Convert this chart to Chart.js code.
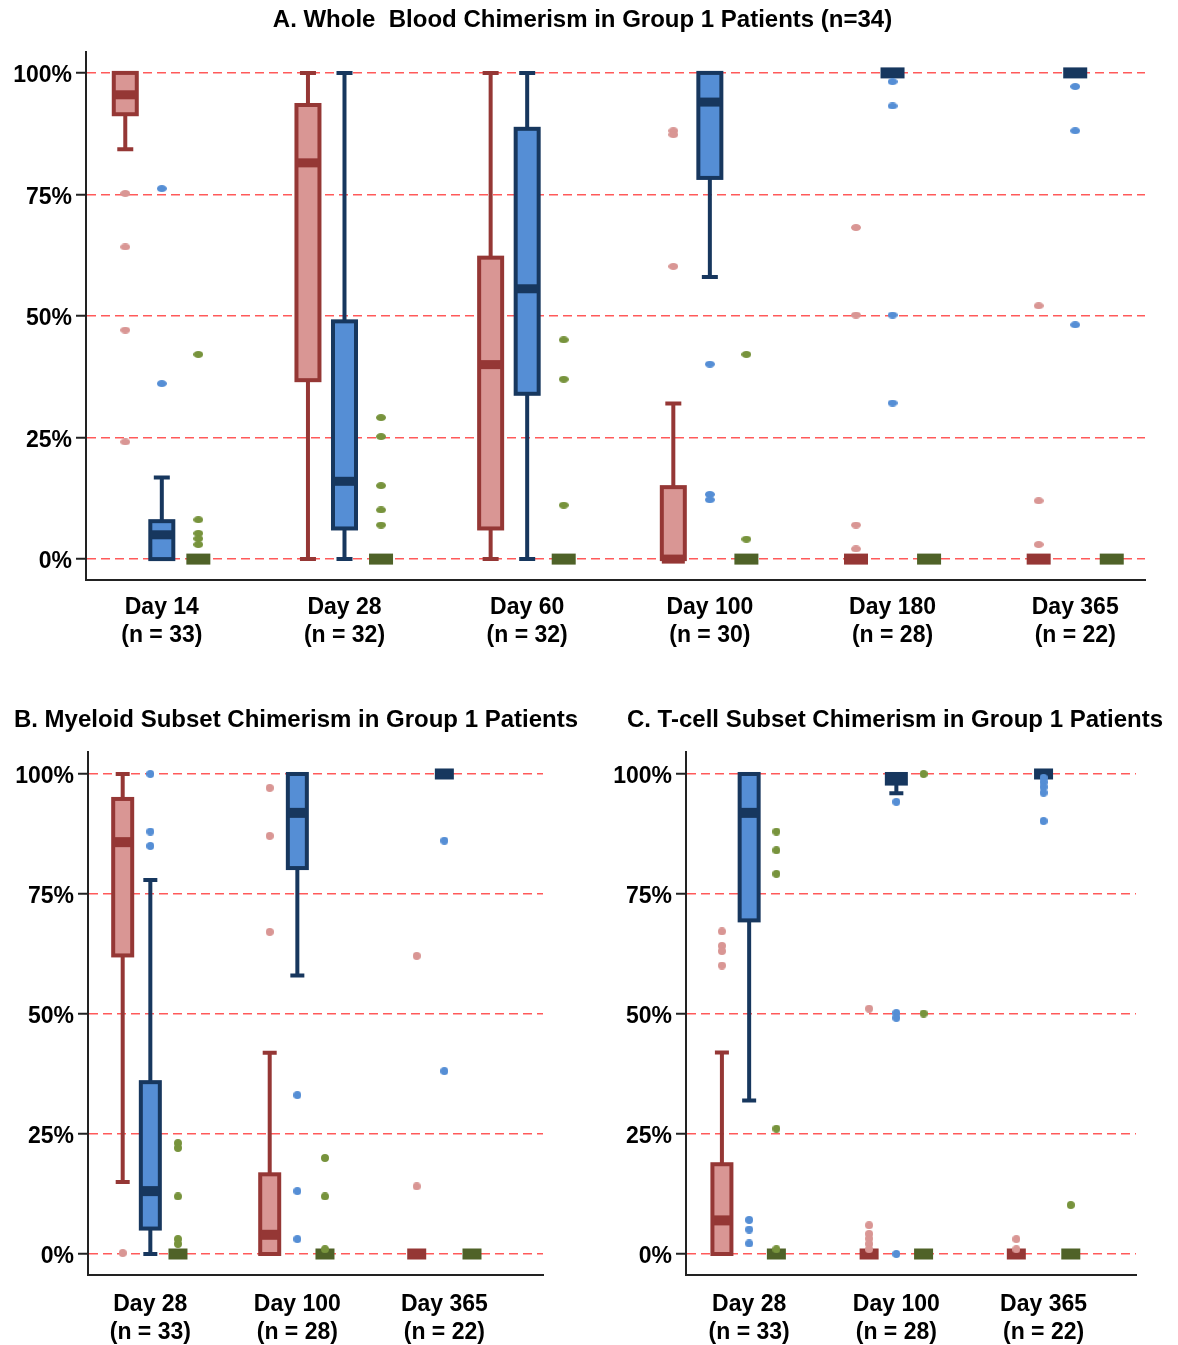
<!DOCTYPE html>
<html>
<head>
<meta charset="utf-8">
<script src="https://cdn.jsdelivr.net/npm/chart.js@4/dist/chart.umd.min.js"></script>
<style>
  html, body { margin: 0; padding: 0; background: #ffffff; }
  body { width: 1178px; height: 1345px; position: relative; overflow: hidden; }
  canvas { position: absolute; display: block; }
</style>
</head>
<body>
<canvas id="chartA" width="1178" height="670" style="left:0;top:0"></canvas>
<canvas id="chartB" width="600" height="645" style="left:0;top:700px"></canvas>
<canvas id="chartC" width="578" height="645" style="left:600px;top:700px"></canvas>
<script>
// ---- Categories and tick values ----
const wbDays = [['Day 14', '(n = 33)'], ['Day 28', '(n = 32)'], ['Day 60', '(n = 32)'],
                ['Day 100', '(n = 30)'], ['Day 180', '(n = 28)'], ['Day 365', '(n = 22)']];
const myeloidDays = [['Day 28', '(n = 33)'], ['Day 100', '(n = 28)'], ['Day 365', '(n = 22)']];
const tcellDays = [['Day 28', '(n = 33)'], ['Day 100', '(n = 28)'], ['Day 365', '(n = 22)']];
const pctTicks = [0, 25, 50, 75, 100];

// ---- Box statistics per day: [low whisker, Q1, median, Q3, high whisker] (%) ----
// A. Whole blood
const wbRedStats   = [[84.3, 91.5, 95.5, 100, 100], [0, 36.8, 81.5, 93.4, 100], [0, 6.3, 40, 62, 100],
                      [0, 0, 0, 14.8, 32], [0, 0, 0, 0, 0], [0, 0, 0, 0, 0]];
const wbBlueStats  = [[0, 0, 5, 7.8, 16.8], [0, 6.3, 16, 48.9, 100], [0, 34, 55.6, 88.5, 100],
                      [58, 78.4, 94, 100, 100], [100, 100, 100, 100, 100], [100, 100, 100, 100, 100]];
const wbGreenStats = [[0, 0, 0, 0, 0], [0, 0, 0, 0, 0], [0, 0, 0, 0, 0],
                      [0, 0, 0, 0, 0], [0, 0, 0, 0, 0], [0, 0, 0, 0, 0]];
// Outlying values per day
const wbRedOut   = [[75.2, 64.2, 47.1, 24.1], [], [], [88.1, 87.3, 60.2], [68.2, 50.2, 7, 2.1], [52.1, 12, 3]];
const wbBlueOut  = [[76.2, 36.1], [], [], [40.1, 13.3, 12.2], [98.2, 93.2, 50.2, 32.1], [97.2, 88.1, 48.2]];
const wbGreenOut = [[42.1, 8.1, 5.3, 4.2, 3], [29.1, 25.2, 15.1, 10.1, 7], [45.1, 37, 11.1], [42.1, 4.1], [], []];

// B. Myeloid subset
const myRedStats   = [[15, 62.2, 85.8, 94.8, 100], [0, 0, 4, 16.6, 41.9], [0, 0, 0, 0, 0]];
const myBlueStats  = [[0, 5.3, 13.1, 35.8, 77.9], [58, 80.4, 91.9, 100, 100], [100, 100, 100, 100, 100]];
const myGreenStats = [[0, 0, 0, 0, 0], [0, 0, 0, 0, 0], [0, 0, 0, 0, 0]];
const myRedOut   = [[0.2], [97.1, 87.1, 67.1], [62.1, 14.1]];
const myBlueOut  = [[100, 88, 85], [33.1, 13.1, 3.1], [86.1, 38.1]];
const myGreenOut = [[23.1, 22.1, 12, 3.1, 2.1], [20, 12, 1], []];

// C. T-cell subset
const tcRedStats   = [[0, 0, 7, 18.7, 42], [0, 0, 0, 0, 0], [0, 0, 0, 0, 0]];
const tcBlueStats  = [[32, 69.5, 91.9, 100, 100], [96, 98, 99, 100, 100], [100, 100, 100, 100, 100]];
const tcGreenStats = [[0, 0, 0, 0, 0], [0, 0, 0, 0, 0], [0, 0, 0, 0, 0]];
const tcRedOut   = [[67.2, 64.2, 63.1, 60.1], [51.1, 6, 4.2, 3.2, 2.1, 1], [3.1, 1]];
const tcBlueOut  = [[7.1, 5.1, 2.2], [94.2, 50.2, 49.2, 0], [99.2, 98.3, 97.3, 96.1, 90.2]];
const tcGreenOut = [[88, 84.1, 79.2, 26.1, 1], [100, 50.1], [10.2]];

// ---- Styling ----
const FONT = "'Liberation Sans', Arial, Helvetica, sans-serif";
Chart.defaults.font.family = FONT;
Chart.defaults.color = '#000';

const RED   = { line: '#953735', fill: '#d99694', dot: '#d99694' };
const BLUE  = { line: '#17375e', fill: '#558ed5', dot: '#558ed5' };
const GREEN = { line: '#4f6228', fill: '#77933c', dot: '#77933c' };

function dotImage(color, w, h) {
  const c = document.createElement('canvas');
  c.width = w; c.height = h;
  const g = c.getContext('2d');
  g.fillStyle = color;
  g.beginPath();
  g.ellipse(w / 2, h / 2, w / 2, h / 2, 0, 0, Math.PI * 2);
  g.fill();
  return c;
}

// Draws box-and-whisker glyphs for every dataset carrying boxStats.
const boxPlotPlugin = {
  id: 'boxPlot',
  beforeDatasetsDraw(chart, args, opts) {
    const { ctx } = chart;
    const xs = chart.scales.x, ys = chart.scales.y;
    chart.data.datasets.forEach(ds => {
      if (!ds.boxStats) return;
      ds.boxStats.forEach((s, i) => {
        const cx = xs.getPixelForValue(i + 1 + ds.boxOffset);
        const [lo, q1, med, q3, hi] = s.map(v => ys.getPixelForValue(v));
        ctx.save();
        if (s[3] - s[1] < 0.01) {
          ctx.fillStyle = ds.boxLine;
          ctx.fillRect(cx - opts.flatWidth / 2, med - opts.flatHeight / 2, opts.flatWidth, opts.flatHeight);
        } else {
          ctx.strokeStyle = ds.boxLine;
          ctx.lineWidth = opts.lineWidth;
          ctx.lineCap = 'butt';
          ctx.beginPath();
          ctx.moveTo(cx, lo); ctx.lineTo(cx, q1);
          ctx.moveTo(cx, q3); ctx.lineTo(cx, hi);
          ctx.moveTo(cx - opts.capWidth / 2, lo); ctx.lineTo(cx + opts.capWidth / 2, lo);
          ctx.moveTo(cx - opts.capWidth / 2, hi); ctx.lineTo(cx + opts.capWidth / 2, hi);
          ctx.stroke();
          ctx.fillStyle = ds.boxFill;
          ctx.fillRect(cx - opts.boxWidth / 2, q3, opts.boxWidth, q1 - q3);
          ctx.strokeRect(cx - opts.boxWidth / 2, q3, opts.boxWidth, q1 - q3);
          ctx.fillStyle = ds.boxLine;
          ctx.fillRect(cx - opts.boxWidth / 2, med - opts.medianHeight / 2, opts.boxWidth, opts.medianHeight);
        }
        ctx.restore();
      });
    });
  }
};

// Panel heading, centred on a given point of the canvas.
const panelTitlePlugin = {
  id: 'panelTitle',
  afterDraw(chart, args, o) {
    const ctx = chart.ctx;
    ctx.save();
    ctx.font = 'bold 24px ' + FONT;
    ctx.fillStyle = '#000';
    ctx.textAlign = 'center';
    ctx.textBaseline = 'middle';
    ctx.fillText(o.text, o.x, o.y);
    ctx.restore();
  }
};

function seriesDataset(stats, outliers, offset, colors, dot) {
  const pts = [];
  outliers.forEach((vals, i) => vals.forEach(v => pts.push({ x: i + 1 + offset, y: v })));
  return {
    data: pts,
    boxStats: stats,
    boxOffset: offset,
    boxLine: colors.line,
    boxFill: colors.fill,
    pointStyle: dot,
    pointRadius: 4,
    showLine: false
  };
}

function makeChart(id, p) {
  const dw = p.dotW, dh = p.dotH;
  return new Chart(document.getElementById(id), {
    type: 'scatter',
    data: {
      datasets: [
        seriesDataset(p.red[0], p.red[1], -p.offset, RED, dotImage(RED.dot, dw, dh)),
        seriesDataset(p.blue[0], p.blue[1], 0, BLUE, dotImage(BLUE.dot, dw, dh)),
        seriesDataset(p.green[0], p.green[1], p.offset, GREEN, dotImage(GREEN.dot, dw, dh))
      ]
    },
    options: {
      responsive: false,
      animation: false,
      events: [],
      layout: { padding: { left: 0, right: p.padR, top: 52, bottom: 0 } },
      plugins: {
        legend: { display: false },
        tooltip: { enabled: false },
        title: { display: false },
        panelTitle: { text: p.title, x: p.titleX, y: 20 },
        boxPlot: p.geom
      },
      scales: {
        x: {
          type: 'linear',
          min: p.xMin, max: p.xMax,
          grid: { display: false },
          border: { display: true, color: '#222', width: 2 },
          afterBuildTicks: s => { s.ticks = p.days.map((d, i) => ({ value: i + 1 })); },
          afterFit: s => { s.height = p.xHeight; },
          ticks: {
            autoSkip: false, maxRotation: 0, padding: p.xPad, color: '#000',
            font: { size: 23, weight: 'bold', lineHeight: 1.2 },
            callback: v => p.days[Math.round(v) - 1]
          }
        },
        y: {
          min: p.yMin, max: p.yMax,
          afterBuildTicks: s => { s.ticks = pctTicks.map(v => ({ value: v })); },
          afterFit: s => { s.width = p.yWidth; },
          grid: {
            color: '#ff5a5a', lineWidth: 1.5,
            tickColor: '#222', tickLength: 10, tickWidth: 2
          },
          border: { display: true, color: '#222', width: 2, dash: [9, 5] },
          ticks: {
            padding: 4, color: '#000', labelOffset: 3,
            font: { size: 23, weight: 'bold' },
            callback: v => v + '%'
          }
        }
      }
    },
    plugins: [boxPlotPlugin, panelTitlePlugin]
  });
}

makeChart('chartA', {
  title: 'A. Whole  Blood Chimerism in Group 1 Patients (n=34)', titleX: 582.5,
  days: wbDays,
  red: [wbRedStats, wbRedOut], blue: [wbBlueStats, wbBlueOut], green: [wbGreenStats, wbGreenOut],
  offset: 0.2, dotW: 10, dotH: 7,
  xMin: 0.585, xMax: 6.382, yMin: -4.3, yMax: 104.3,
  padR: 33, yWidth: 86, xHeight: 90, xPad: 6,
  geom: { boxWidth: 23, capWidth: 16, lineWidth: 4, medianHeight: 9, flatWidth: 24, flatHeight: 11 }
});

makeChart('chartB', {
  title: 'B. Myeloid Subset Chimerism in Group 1 Patients', titleX: 296,
  days: myeloidDays,
  red: [myRedStats, myRedOut], blue: [myBlueStats, myBlueOut], green: [myGreenStats, myGreenOut],
  offset: 0.188, dotW: 8, dotH: 8,
  xMin: 0.576, xMax: 3.671, yMin: -4.375, yMax: 104.58,
  padR: 57, yWidth: 88, xHeight: 70, xPad: 8,
  geom: { boxWidth: 19, capWidth: 14, lineWidth: 4, medianHeight: 10, flatWidth: 19, flatHeight: 11 }
});

makeChart('chartC', {
  title: 'C. T-cell Subset Chimerism in Group 1 Patients', titleX: 295,
  days: tcellDays,
  red: [tcRedStats, tcRedOut], blue: [tcBlueStats, tcBlueOut], green: [tcGreenStats, tcGreenOut],
  offset: 0.185, dotW: 8, dotH: 8,
  xMin: 0.571, xMax: 3.628, yMin: -4.375, yMax: 104.58,
  padR: 42, yWidth: 86, xHeight: 70, xPad: 8,
  geom: { boxWidth: 19, capWidth: 14, lineWidth: 4, medianHeight: 10, flatWidth: 19, flatHeight: 11 }
});
</script>
</body>
</html>
